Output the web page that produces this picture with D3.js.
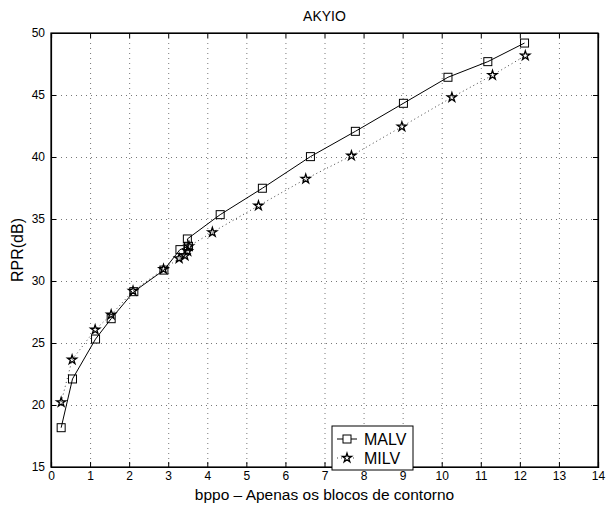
<!DOCTYPE html>
<html>
<head>
<meta charset="utf-8">
<script src="https://cdn.jsdelivr.net/npm/d3@7"></script>
<style>
  body { margin: 0; background: #fff; }
  text { font-family: "Liberation Sans", Arial, sans-serif; }
</style>
</head>
<body>
<div id="grafico"></div>
<script>
// datos
var malvX = [0.26, 0.55, 1.14, 1.54, 2.12, 2.89, 3.30, 3.52, 3.49, 4.33, 5.41, 6.64, 7.79, 9.02, 10.16, 11.18, 12.12];
var malvY = [18.17, 22.1, 25.32, 26.96, 29.14, 30.88, 32.53, 32.8, 33.39, 35.35, 37.48, 40.03, 42.07, 44.33, 46.43, 47.69, 49.19];
var milvX = [0.26, 0.54, 1.13, 1.54, 2.1, 2.88, 3.28, 3.43, 3.50, 3.53, 4.13, 5.31, 6.52, 7.69, 8.98, 10.26, 11.3, 12.14];
var milvY = [20.22, 23.65, 26.07, 27.28, 29.2, 30.95, 31.83, 32.04, 32.4, 32.8, 33.93, 36.07, 38.23, 40.1, 42.45, 44.81, 46.6, 48.17];
var xTicks = [0, 1, 2, 3, 4, 5, 6, 7, 8, 9, 10, 11, 12, 13, 14];
var yTicks = [15, 20, 25, 30, 35, 40, 45, 50];
var serieNombres = ["MALV", "MILV"];

var margin = {top: 33, right: 17, bottom: 38, left: 51},
    width = 615 - margin.left - margin.right,
    height = 505 - margin.top - margin.bottom;

var svg = d3.select("#grafico")
  .append("svg")
  .attr("width", 615)
  .attr("height", 505)
  .append("g")
  .attr("transform", "translate(" + margin.left + "," + margin.top + ")");

var x = d3.scaleLinear().domain([0, 14]).range([0, width]);
var y = d3.scaleLinear().domain([15, 50]).range([height, 0]);

// grid punteado
svg.append("g")
  .selectAll("line")
  .data(xTicks.slice(1, -1))
  .join("line")
  .attr("x1", d => x(d) + 0.5).attr("x2", d => x(d) + 0.5)
  .attr("y1", 0).attr("y2", height)
  .attr("stroke", "#555").attr("stroke-width", 0.8)
  .attr("stroke-dasharray", "1,4");

svg.append("g")
  .selectAll("line")
  .data(yTicks.slice(1, -1))
  .join("line")
  .attr("y1", d => y(d) + 0.5).attr("y2", d => y(d) + 0.5)
  .attr("x1", 0).attr("x2", width)
  .attr("stroke", "#555").attr("stroke-width", 0.8)
  .attr("stroke-dasharray", "1,4");

// ejes (ticks hacia adentro)
svg.append("g")
  .attr("transform", "translate(0," + height + ")")
  .call(d3.axisBottom(x).tickValues(xTicks).tickSize(-5).tickPadding(4));
svg.append("g")
  .call(d3.axisLeft(y).tickValues(yTicks).tickSize(-5).tickPadding(6));
svg.append("g")
  .call(d3.axisTop(x).tickValues(xTicks).tickSize(-5).tickFormat(""));
svg.append("g")
  .attr("transform", "translate(" + width + ",0)")
  .call(d3.axisRight(y).tickValues(yTicks).tickSize(-5).tickFormat(""));

svg.selectAll(".domain").attr("stroke", "#000").attr("stroke-width", 1.2);
svg.selectAll(".tick line").attr("stroke", "#000");
svg.selectAll(".tick text")
  .style("font-size", "12px")
  .style("font-family", "'Liberation Sans', Arial, sans-serif")
  .attr("fill", "#000");

// marco
svg.append("rect")
  .attr("x", 0).attr("y", 0)
  .attr("width", width).attr("height", height)
  .attr("fill", "none").attr("stroke", "#000").attr("stroke-width", 1.2);

// lineas
var datosMalv = malvX.map((d, i) => [d, malvY[i]]);
var datosMilv = milvX.map((d, i) => [d, milvY[i]]);

var linea = d3.line().x(d => x(d[0])).y(d => y(d[1]));

svg.append("path")
  .datum(datosMilv)
  .attr("fill", "none")
  .attr("stroke", "#444")
  .attr("stroke-width", 1)
  .attr("stroke-dasharray", "1,3")
  .attr("d", linea);

svg.append("path")
  .datum(datosMalv)
  .attr("fill", "none")
  .attr("stroke", "#000")
  .attr("stroke-width", 1)
  .attr("d", linea);

var estrella = d3.symbol().type(d3.symbolStar).size(26);

svg.append("g")
  .selectAll("path")
  .data(datosMilv)
  .join("path")
  .attr("transform", d => "translate(" + x(d[0]) + "," + y(d[1]) + ")")
  .attr("d", estrella)
  .attr("fill", "none")
  .attr("stroke", "#000")
  .attr("stroke-width", 1.3);

svg.append("g")
  .selectAll("rect")
  .data(datosMalv)
  .join("rect")
  .attr("x", d => x(d[0]) - 4)
  .attr("y", d => y(d[1]) - 4)
  .attr("width", 8).attr("height", 8)
  .attr("fill", "none")
  .attr("stroke", "#000")
  .attr("stroke-width", 1);

// leyenda
var leyenda = svg.append("g")
  .attr("transform", "translate(" + (332 - margin.left) + "," + (426 - margin.top) + ")");
leyenda.append("rect")
  .attr("x", 0).attr("y", 0).attr("width", 81).attr("height", 44)
  .attr("fill", "#fff").attr("stroke", "#000").attr("stroke-width", 1);

leyenda.append("line")
  .attr("x1", 5).attr("x2", 25).attr("y1", 13).attr("y2", 13)
  .attr("stroke", "#000");
leyenda.append("rect")
  .attr("x", 11).attr("y", 9).attr("width", 8).attr("height", 8)
  .attr("fill", "#fff").attr("stroke", "#000");
leyenda.append("line")
  .attr("x1", 5).attr("x2", 25).attr("y1", 32).attr("y2", 32)
  .attr("stroke", "#444").attr("stroke-dasharray", "1,3");
leyenda.append("path")
  .attr("transform", "translate(15,32)")
  .attr("d", estrella)
  .attr("fill", "#fff").attr("stroke", "#000").attr("stroke-width", 1.3);

leyenda.selectAll("text.nombre")
  .data(serieNombres)
  .join("text")
  .attr("class", "nombre")
  .attr("x", 32)
  .attr("y", (d, i) => 19 + i * 19)
  .style("font-size", "16px")
  .text(d => d);

// titulos
svg.append("text")
  .attr("x", width / 2)
  .attr("y", -12)
  .attr("text-anchor", "middle")
  .style("font-size", "14px")
  .text("AKYIO");

svg.append("text")
  .attr("x", width / 2)
  .attr("y", height + 33)
  .attr("text-anchor", "middle")
  .style("font-size", "15.5px")
  .text("bppo \u2013 Apenas os blocos de contorno");

svg.append("text")
  .attr("transform", "rotate(-90)")
  .attr("x", -height / 2)
  .attr("y", -28)
  .attr("text-anchor", "middle")
  .style("font-size", "16px")
  .text("RPR(dB)");
</script>
</body>
</html>
